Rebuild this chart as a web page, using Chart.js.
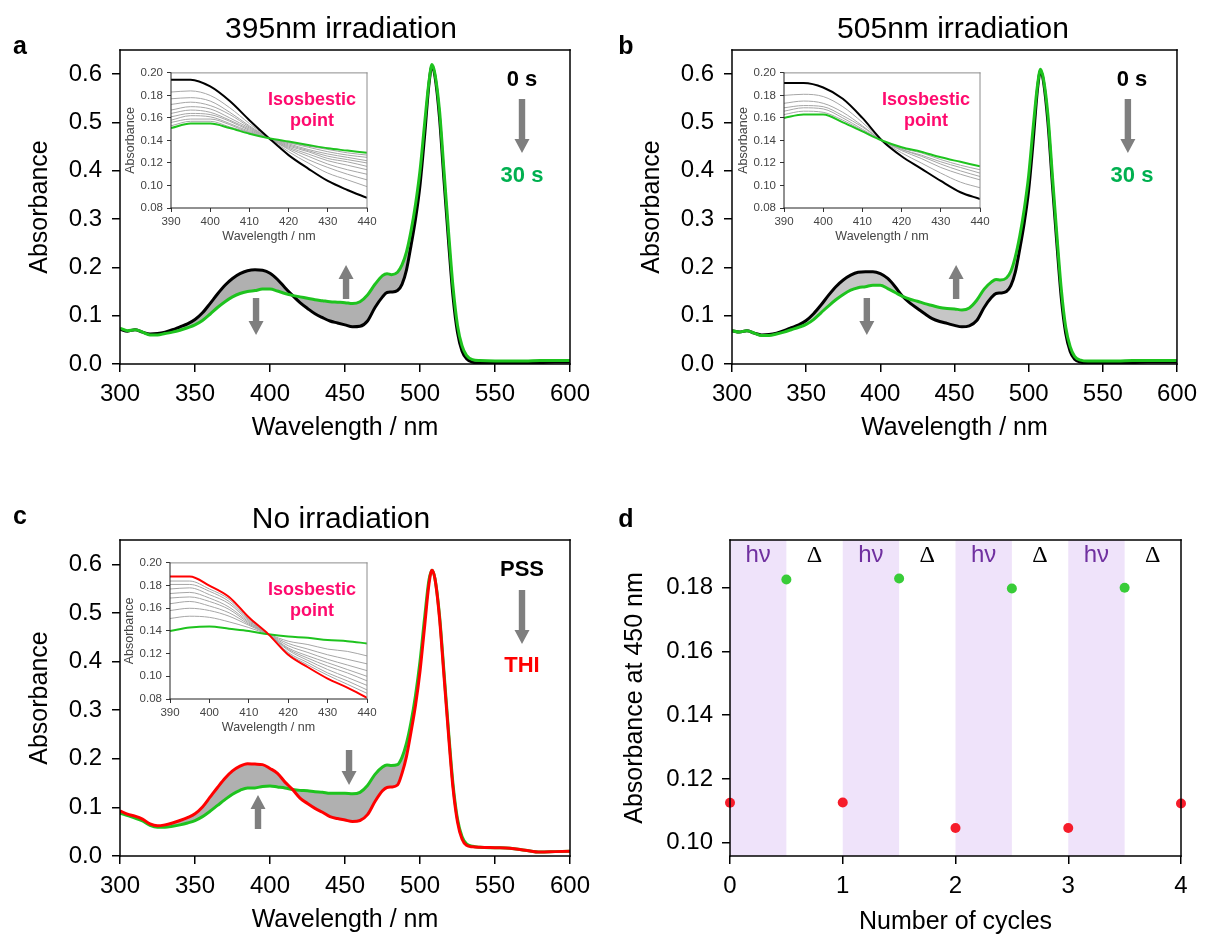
<!DOCTYPE html>
<html><head><meta charset="utf-8">
<script src="https://cdn.jsdelivr.net/npm/chart.js@4.4.1/dist/chart.umd.min.js"></script>
<style>
html,body{margin:0;padding:0;background:#fff;}
#wrap{position:relative;width:1205px;height:937px;overflow:hidden;font-family:"Liberation Sans",Arial,sans-serif;color:#000;}
canvas{position:absolute;}
.t{position:absolute;white-space:nowrap;}
</style></head><body><div id="wrap">
<canvas id="ca" width="600" height="460" style="left:0px;top:0px"></canvas>
<canvas id="cb" width="600" height="460" style="left:605px;top:0px"></canvas>
<canvas id="cc" width="600" height="447" style="left:0px;top:490px"></canvas>
<canvas id="cd" width="600" height="447" style="left:605px;top:490px"></canvas>
<canvas id="ia" width="270" height="185" style="left:110px;top:62px"></canvas>
<canvas id="ib" width="270" height="185" style="left:723px;top:62px"></canvas>
<canvas id="ic" width="271" height="186" style="left:109px;top:552px"></canvas>
</div>
<script>
// ================= DATA =================
const WL = [300,305,310,315,320,325,330,335,340,345,350,355,360,365,370,375,380,385,390,395,400,405,410,415,420,425,430,435,440,445,450,455,460,465,470,475,478,481,485,488,491,494,497,500,503,506,508,510,513,516,519,522,525,528,531,535,540,550,560,570,580,590,600];

// panel a (395 nm irradiation)
const A_0S  = [.072,.068,.071,.066,.062,.063,.066,.071,.077,.083,.092,.106,.125,.145,.163,.177,.187,.193,.195,.194,.188,.175,.158,.142,.127,.115,.104,.096,.089,.085,.081,.077,.078,.089,.117,.139,.148,.149,.152,.165,.195,.245,.300,.370,.470,.580,.617,.595,.510,.380,.255,.140,.065,.027,.011,.004,.002,.002,.002,.003,.003,.004,.004];
const A_30S = [.074,.069,.071,.066,.060,.060,.063,.066,.070,.075,.081,.090,.103,.117,.129,.139,.146,.150,.152,.155,.155,.151,.146,.142,.139,.136,.133,.131,.129,.128,.127,.125,.129,.143,.165,.183,.187,.185,.190,.205,.232,.275,.330,.400,.495,.585,.620,.600,.525,.400,.275,.160,.080,.038,.018,.009,.007,.006,.006,.006,.007,.007,.007];

// panel b (505 nm irradiation)
const B_0S  = [.069,.066,.069,.064,.060,.061,.064,.069,.075,.081,.090,.104,.122,.142,.160,.174,.184,.190,.191,.191,.187,.177,.160,.140,.126,.115,.104,.094,.088,.084,.080,.077,.079,.090,.117,.138,.146,.147,.150,.162,.190,.238,.292,.360,.460,.570,.607,.585,.500,.372,.250,.137,.063,.026,.010,.004,.002,.002,.003,.003,.004,.004,.004];
const B_30S = [.069,.066,.069,.064,.059,.059,.062,.066,.071,.076,.082,.092,.106,.120,.133,.144,.153,.158,.160,.163,.163,.156,.148,.140,.134,.130,.125,.121,.117,.115,.114,.112,.116,.132,.155,.170,.175,.174,.178,.192,.222,.265,.320,.390,.488,.578,.610,.590,.515,.390,.268,.155,.076,.036,.016,.008,.006,.006,.006,.007,.007,.007,.007];

// panel c (no irradiation)
const C_THI = [.093,.086,.082,.076,.066,.062,.064,.068,.073,.079,.087,.101,.121,.141,.160,.175,.185,.190,.189,.188,.180,.170,.152,.137,.119,.108,.098,.090,.081,.077,.074,.071,.073,.085,.112,.134,.141,.142,.146,.170,.205,.255,.310,.380,.470,.560,.588,.570,.490,.370,.250,.140,.070,.035,.022,.019,.018,.017,.016,.012,.008,.009,.010];
const C_PSS = [.088,.083,.078,.072,.063,.059,.059,.061,.064,.068,.073,.081,.092,.104,.116,.127,.135,.140,.140,.143,.144,.142,.140,.137,.135,.134,.132,.131,.129,.129,.129,.128,.131,.145,.168,.183,.187,.186,.188,.203,.232,.275,.330,.400,.488,.568,.588,.570,.495,.378,.258,.148,.076,.040,.025,.020,.018,.017,.016,.012,.008,.009,.010];

// insets (390-440 nm)
const INSET_WL = [390,395,400,405,410,415,420,425,430,435,440];
const IA_0S  = [0.194,0.194,0.188,0.175,0.158,0.142,0.127,0.115,0.104,0.096,0.089];
const IA_30S = [0.151,0.155,0.155,0.151,0.146,0.142,0.139,0.136,0.133,0.131,0.129];
const IA_MID = [
  [0.183,0.184,0.180,0.169,0.155,0.142,0.130,0.120,0.111,0.105,0.099],
  [0.177,0.178,0.175,0.165,0.153,0.142,0.132,0.123,0.116,0.110,0.105],
  [0.172,0.174,0.171,0.163,0.152,0.142,0.133,0.126,0.119,0.114,0.110],
  [0.167,0.170,0.168,0.160,0.151,0.142,0.134,0.128,0.122,0.118,0.114],
  [0.164,0.167,0.165,0.158,0.150,0.142,0.135,0.130,0.124,0.121,0.117],
  [0.161,0.164,0.163,0.157,0.149,0.142,0.136,0.131,0.126,0.123,0.120],
  [0.158,0.162,0.161,0.155,0.148,0.142,0.137,0.132,0.128,0.125,0.122],
  [0.156,0.159,0.159,0.154,0.147,0.142,0.138,0.134,0.130,0.127,0.125],
  [0.153,0.157,0.157,0.152,0.147,0.142,0.138,0.135,0.132,0.129,0.127]
];
const IB_0S  = [0.191,0.191,0.187,0.177,0.160,0.140,0.126,0.115,0.104,0.094,0.088];
const IB_30S = [0.160,0.163,0.163,0.156,0.148,0.140,0.134,0.130,0.125,0.121,0.117];
const IB_MID = [
  [0.180,0.181,0.179,0.170,0.156,0.140,0.129,0.120,0.111,0.103,0.098],
  [0.173,0.175,0.173,0.165,0.153,0.140,0.131,0.124,0.116,0.110,0.105],
  [0.169,0.171,0.170,0.162,0.152,0.140,0.132,0.126,0.119,0.113,0.108],
  [0.166,0.169,0.168,0.160,0.150,0.140,0.132,0.127,0.121,0.116,0.111],
  [0.163,0.166,0.165,0.158,0.149,0.140,0.133,0.129,0.123,0.118,0.114]
];
const IC_THI = [0.188,0.188,0.180,0.170,0.152,0.137,0.119,0.108,0.098,0.090,0.081];
const IC_PSS = [0.140,0.143,0.144,0.142,0.140,0.137,0.135,0.134,0.132,0.131,0.129];
const IC_MID = [
  [0.151,0.153,0.152,0.148,0.143,0.137,0.131,0.128,0.124,0.122,0.118],
  [0.158,0.160,0.158,0.153,0.145,0.137,0.129,0.124,0.119,0.115,0.111],
  [0.164,0.166,0.162,0.156,0.146,0.137,0.127,0.121,0.115,0.110,0.105],
  [0.169,0.170,0.166,0.159,0.147,0.137,0.125,0.118,0.112,0.106,0.100],
  [0.173,0.174,0.169,0.161,0.148,0.137,0.124,0.116,0.109,0.103,0.096],
  [0.177,0.178,0.172,0.164,0.149,0.137,0.123,0.114,0.106,0.099,0.092],
  [0.181,0.181,0.175,0.166,0.150,0.137,0.121,0.112,0.103,0.096,0.088],
  [0.184,0.184,0.177,0.168,0.151,0.137,0.120,0.110,0.101,0.093,0.085]
];

// panel d (cycles)
const CYC_RED_X = [0,1,2,3,4];
const CYC_RED_Y = [0.1125,0.1126,0.1046,0.1046,0.1123];
const CYC_GREEN_X = [0.5,1.5,2.5,3.5];
const CYC_GREEN_Y = [0.1826,0.1829,0.1798,0.1800];
const HV_BANDS = [[0,0.5],[1,1.5],[2,2.5],[3,3.5]];
const DELTA_BANDS = [[0.5,1],[1.5,2],[2.5,3],[3.5,4]];

// ticks
const MAIN_X_TICKS = [300,350,400,450,500,550,600];
const MAIN_Y_TICKS = [0,0.1,0.2,0.3,0.4,0.5,0.6];
const INSET_X_TICKS = [390,400,410,420,430,440];
const INSET_Y_TICKS = [0.08,0.10,0.12,0.14,0.16,0.18,0.20];
const D_X_TICKS = [0,1,2,3,4];
const D_Y_TICKS = [0.10,0.12,0.14,0.16,0.18];

// ================= RENDER =================
Chart.defaults.font.family = "'Liberation Sans', Arial, sans-serif";
Chart.defaults.color = '#000';
const pts = (xs, ys) => xs.map((x,i) => ({x, y: ys[i]}));
const setTicks = arr => s => { s.ticks = arr.map(v => ({value: v})); };

function framePlugin(colors, width) {
  return {id:'frame', afterDatasetsDraw(chart){
    const {ctx, chartArea:{left,top,right,bottom}} = chart;
    ctx.save(); ctx.lineWidth = width; ctx.lineCap='square';
    const seg = (c,x1,y1,x2,y2)=>{ctx.strokeStyle=c;ctx.beginPath();ctx.moveTo(x1,y1);ctx.lineTo(x2,y2);ctx.stroke();};
    seg(colors.top,left,top,right,top); seg(colors.right,right,top,right,bottom);
    seg(colors.bottom,left,bottom,right,bottom); seg(colors.left,left,top,left,bottom);
    ctx.restore();
  }};
}
function arrowPlugin(list) {
  return {id:'arrows', afterDatasetsDraw(chart){
    const ctx = chart.ctx, xs = chart.scales.x, ys = chart.scales.y;
    ctx.save(); ctx.fillStyle = '#7f7f7f';
    list.forEach(a => {
      const x = xs.getPixelForValue(a.x), y1 = ys.getPixelForValue(a.from), y2 = ys.getPixelForValue(a.to);
      const dir = Math.sign(y2 - y1), head = 14, hw = 7.5, sw = 3.2, yb = y2 - dir*head;
      ctx.beginPath(); ctx.moveTo(x-sw,y1); ctx.lineTo(x+sw,y1); ctx.lineTo(x+sw,yb); ctx.lineTo(x+hw,yb);
      ctx.lineTo(x,y2); ctx.lineTo(x-hw,yb); ctx.lineTo(x-sw,yb); ctx.closePath(); ctx.fill();
    });
    ctx.restore();
  }};
}
const BLACK_FRAME = {top:'#000',right:'#000',bottom:'#000',left:'#000'};

function spectrum(id, cfg) {
  const ds = cfg.lines.map(l => ({data: pts(WL, l.y), borderColor: l.color, borderWidth: 3, pointRadius: 0,
    cubicInterpolationMode:'monotone', fill: l.fill || false, backgroundColor: cfg.band}));
  return new Chart(document.getElementById(id), {
    type:'line', data:{datasets: ds},
    options:{responsive:false, animation:false, events:[],
      layout:{padding:{left:0, right:cfg.padRight, top:50, bottom:cfg.padBottom}},
      plugins:{legend:{display:false}, tooltip:{enabled:false}, filler:{drawTime:'beforeDatasetsDraw'}},
      scales:{
        x:{type:'linear', min:300, max:600, afterBuildTicks:setTicks(MAIN_X_TICKS), afterFit:s=>{s.height=80;},
           grid:{drawOnChartArea:false, tickLength:8, color:'#000', lineWidth:1.5}, border:{display:false},
           ticks:{font:{size:24}, padding:8, maxRotation:0, autoSkip:false, color:'#000'},
           title:{display:true, text:'Wavelength / nm', font:{size:25}, color:'#000', padding:{top:0,bottom:cfg.xTitlePad}}},
        y:{type:'linear', min:0, max:0.65, afterBuildTicks:setTicks(MAIN_Y_TICKS), afterFit:s=>{s.width=cfg.yWidth;},
           grid:{drawOnChartArea:false, tickLength:8, color:'#000', lineWidth:1.5}, border:{display:false},
           ticks:{font:{size:24}, padding:10, color:'#000', callback:v=>v.toFixed(1)},
           title:{display:true, text:'Absorbance', font:{size:25}, color:'#000', padding:{top:cfg.yTitlePad,bottom:0}}}
      }},
    plugins:[framePlugin(BLACK_FRAME,1.5), arrowPlugin(cfg.arrows)]
  });
}

function inset(id, cfg) {
  const ds = [];
  cfg.top.forEach(l => ds.push({data: pts(INSET_WL, l.y), borderColor: l.color, borderWidth: 2, pointRadius:0, cubicInterpolationMode:'monotone'}));
  cfg.mid.forEach(y => ds.push({data: pts(INSET_WL, y), borderColor:'#a6a6a6', borderWidth:1, pointRadius:0, cubicInterpolationMode:'monotone'}));
  return new Chart(document.getElementById(id), {
    type:'line', data:{datasets: ds},
    options:{responsive:false, animation:false, events:[],
      layout:{padding:{left:0, right:cfg.padRight, top:10, bottom:1}},
      plugins:{legend:{display:false}, tooltip:{enabled:false}},
      scales:{
        x:{type:'linear', min:390, max:440, afterBuildTicks:setTicks(INSET_X_TICKS), afterFit:s=>{s.height=38;},
           grid:{drawOnChartArea:false, tickLength:4, color:'#333', lineWidth:1}, border:{display:false},
           ticks:{font:{size:11.5}, padding:3, maxRotation:0, autoSkip:false, color:'#444'},
           title:{display:true, text:'Wavelength / nm', font:{size:12.5}, color:'#444', padding:{top:0,bottom:2}}},
        y:{type:'linear', min:0.08, max:0.20, afterBuildTicks:setTicks(INSET_Y_TICKS), afterFit:s=>{s.width=61;},
           grid:{drawOnChartArea:false, tickLength:4, color:'#333', lineWidth:1}, border:{display:false},
           ticks:{font:{size:11.5}, padding:4, color:'#444', callback:v=>v.toFixed(2)},
           title:{display:true, text:'Absorbance', font:{size:12.5}, color:'#444', padding:{top:13.5,bottom:0}}}
      }},
    plugins:[framePlugin({top:'#8c8c8c',right:'#8c8c8c',bottom:'#222',left:'#222'},1)]
  });
}

const GREEN_LINE = '#1ec31e';
spectrum('ca', {padRight:30, padBottom:16, xTitlePad:1, yWidth:120, yTitlePad:25, band:'#b0b0b0',
  lines:[{y:A_30S, color:GREEN_LINE}, {y:A_0S, color:'#000', fill:'-1'}],
  arrows:[{x:568,from:0.5485,to:0.4368},{x:390.7,from:0.1366,to:0.060},{x:450.7,from:0.1345,to:0.205}]});
spectrum('cb', {padRight:24, padBottom:16, xTitlePad:1, yWidth:127, yTitlePad:32, band:'#c6c6c6',
  lines:[{y:B_30S, color:GREEN_LINE}, {y:B_0S, color:'#000', fill:'-1'}],
  arrows:[{x:566.9,from:0.5485,to:0.4368},{x:390.9,from:0.1366,to:0.060},{x:451.1,from:0.1345,to:0.205}]});
spectrum('cc', {padRight:30, padBottom:1, xTitlePad:1, yWidth:120, yTitlePad:25, band:'#b0b0b0',
  lines:[{y:C_THI, color:'#ff0000'}, {y:C_PSS, color:GREEN_LINE, fill:'-1'}],
  arrows:[{x:568,from:0.547,to:0.436},{x:392,from:0.0555,to:0.1255},{x:452.7,from:0.218,to:0.146}]});

inset('ia', {padRight:13, top:[{y:IA_30S,color:GREEN_LINE},{y:IA_0S,color:'#000'}], mid:IA_MID});
inset('ib', {padRight:13, top:[{y:IB_30S,color:GREEN_LINE},{y:IB_0S,color:'#000'}], mid:IB_MID});
inset('ic', {padRight:13, top:[{y:IC_THI,color:'#ff0000'},{y:IC_PSS,color:GREEN_LINE}], mid:IC_MID});

// panel d
const bandPlugin = {id:'bands', beforeDatasetsDraw(chart){
  const {ctx, chartArea:{top,bottom}} = chart, xs = chart.scales.x;
  ctx.save(); ctx.fillStyle = '#efe3fa';
  HV_BANDS.forEach(([a,b]) => { const x1 = xs.getPixelForValue(a), x2 = xs.getPixelForValue(b); ctx.fillRect(x1, top, x2-x1, bottom-top); });
  ctx.textAlign = 'center'; ctx.textBaseline = 'alphabetic';
  ctx.fillStyle = '#7030a0'; ctx.font = "24px 'Liberation Sans', Arial, sans-serif";
  HV_BANDS.forEach(([a,b]) => ctx.fillText('h\u03bd', xs.getPixelForValue((a+b)/2), top + 22));
  ctx.fillStyle = '#000'; ctx.font = "24px 'Liberation Serif', 'Times New Roman', serif";
  DELTA_BANDS.forEach(([a,b]) => ctx.fillText('\u0394', xs.getPixelForValue((a+b)/2), top + 22));
  ctx.restore();
}};
new Chart(document.getElementById('cd'), {
  type:'scatter',
  data:{datasets:[
    {data: pts(CYC_GREEN_X, CYC_GREEN_Y), backgroundColor:'#38cc38', borderWidth:0, pointRadius:5, clip:false},
    {data: pts(CYC_RED_X, CYC_RED_Y), backgroundColor:'#f61c2a', borderWidth:0, pointRadius:5, clip:false}
  ]},
  options:{responsive:false, animation:false, events:[],
    layout:{padding:{left:0, right:24, top:50, bottom:0}},
    plugins:{legend:{display:false}, tooltip:{enabled:false}},
    scales:{
      x:{type:'linear', min:0, max:4, afterBuildTicks:setTicks(D_X_TICKS), afterFit:s=>{s.height=81;},
         grid:{drawOnChartArea:false, tickLength:8, color:'#000', lineWidth:1.5}, border:{display:false},
         ticks:{font:{size:24}, padding:8, maxRotation:0, autoSkip:false, color:'#000'},
         title:{display:true, text:'Number of cycles', font:{size:25}, color:'#000', padding:{top:0,bottom:0}}},
      y:{type:'linear', min:0.0958, max:0.195, afterBuildTicks:setTicks(D_Y_TICKS), afterFit:s=>{s.width=125;},
         grid:{drawOnChartArea:false, tickLength:8, color:'#000', lineWidth:1.5}, border:{display:false},
         ticks:{font:{size:24}, padding:9, color:'#000', callback:v=>v.toFixed(2)},
         title:{display:true, text:'Absorbance at 450 nm', font:{size:25}, color:'#000', padding:{top:15,bottom:0}}}
    }},
  plugins:[bandPlugin, framePlugin(BLACK_FRAME,1.5)]
});

// text overlays
const wrap = document.getElementById('wrap');
function txt(s, cx, base, size, o) {
  o = o || {};
  const d = document.createElement('div'); d.className = 't'; d.textContent = s;
  d.style.fontSize = size + 'px'; d.style.lineHeight = size + 'px';
  d.style.left = cx + 'px'; d.style.top = (base - 0.8465*size) + 'px';
  d.style.transform = 'translateX(-50%)';
  if (o.bold) d.style.fontWeight = 'bold';
  if (o.color) d.style.color = o.color;
  wrap.appendChild(d);
}
txt('a', 20, 54, 25, {bold:true});
txt('b', 626, 54, 25, {bold:true});
txt('c', 20, 524, 25, {bold:true});
txt('d', 626, 527, 25, {bold:true});
txt('395nm irradiation', 341, 38, 30);
txt('505nm irradiation', 953, 38, 30);
txt('No irradiation', 341, 528, 30);
const PINK = '#ff0a6e', LABEL_GREEN = '#00b050';
txt('Isosbestic', 312, 105, 18, {bold:true, color:PINK});
txt('point', 312, 126, 18, {bold:true, color:PINK});
txt('Isosbestic', 926, 105, 18, {bold:true, color:PINK});
txt('point', 926, 126, 18, {bold:true, color:PINK});
txt('Isosbestic', 312, 595, 18, {bold:true, color:PINK});
txt('point', 312, 616, 18, {bold:true, color:PINK});
txt('0 s', 522, 87, 22, {bold:true});
txt('30 s', 522, 183, 22, {bold:true, color:LABEL_GREEN});
txt('0 s', 1132, 87, 22, {bold:true});
txt('30 s', 1132, 183, 22, {bold:true, color:LABEL_GREEN});
txt('PSS', 522, 577, 22, {bold:true});
txt('THI', 522, 673, 22, {bold:true, color:'#ff0000'});
</script>
</body></html>
